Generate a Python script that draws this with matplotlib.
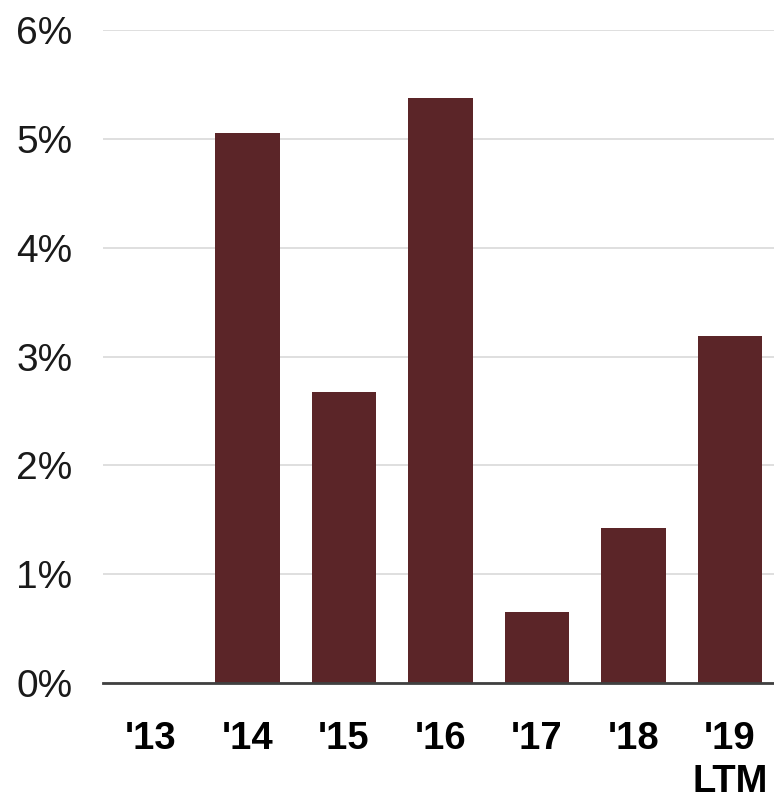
import numpy as np
import matplotlib
matplotlib.use("Agg")
import matplotlib.pyplot as plt
from matplotlib.ticker import FuncFormatter

categories = ["'13", "'14", "'15", "'16", "'17", "'18", "'19\nLTM"]
values = [0.0, 5.05, 2.67, 5.38, 0.65, 1.42, 3.19]
y_ticks = [0, 1, 2, 3, 4, 5, 6]

bar_color = "#5B2528"

fig = plt.figure(figsize=(7.74, 8.01), dpi=100)
ax = fig.add_axes([0.133, 0.1473, 0.867, 0.8152])

x = np.arange(len(categories))
ax.bar(x, values, width=0.67, color=bar_color, zorder=2)

ax.set_xlim(-0.497, 6.456)
ax.set_ylim(0, 6)
ax.set_yticks(y_ticks)
ax.yaxis.set_major_formatter(FuncFormatter(lambda v, p: "%d%%" % v))
ax.grid(axis="y", color="#d9d9d9", linewidth=1.2, zorder=0)
ax.set_axisbelow(True)

for s in ["top", "right", "left"]:
    ax.spines[s].set_visible(False)
ax.spines["bottom"].set_color("#404040")
ax.spines["bottom"].set_linewidth(2)
ax.spines["bottom"].set_zorder(3)

ax.tick_params(axis="y", length=0, pad=22, labelsize=28, labelcolor="#1a1a1a")
for lbl in ax.get_yticklabels():
    lbl.set_family(["Liberation Sans", "DejaVu Sans"])

ax.set_xticks(x)
ax.set_xticklabels(categories, fontsize=27.5, fontweight="bold",
                   family=["Liberation Sans Narrow", "Liberation Sans", "DejaVu Sans"],
                   linespacing=1.25)
ax.tick_params(axis="x", length=0, pad=27)

fig.savefig("out.png", dpi=100)
